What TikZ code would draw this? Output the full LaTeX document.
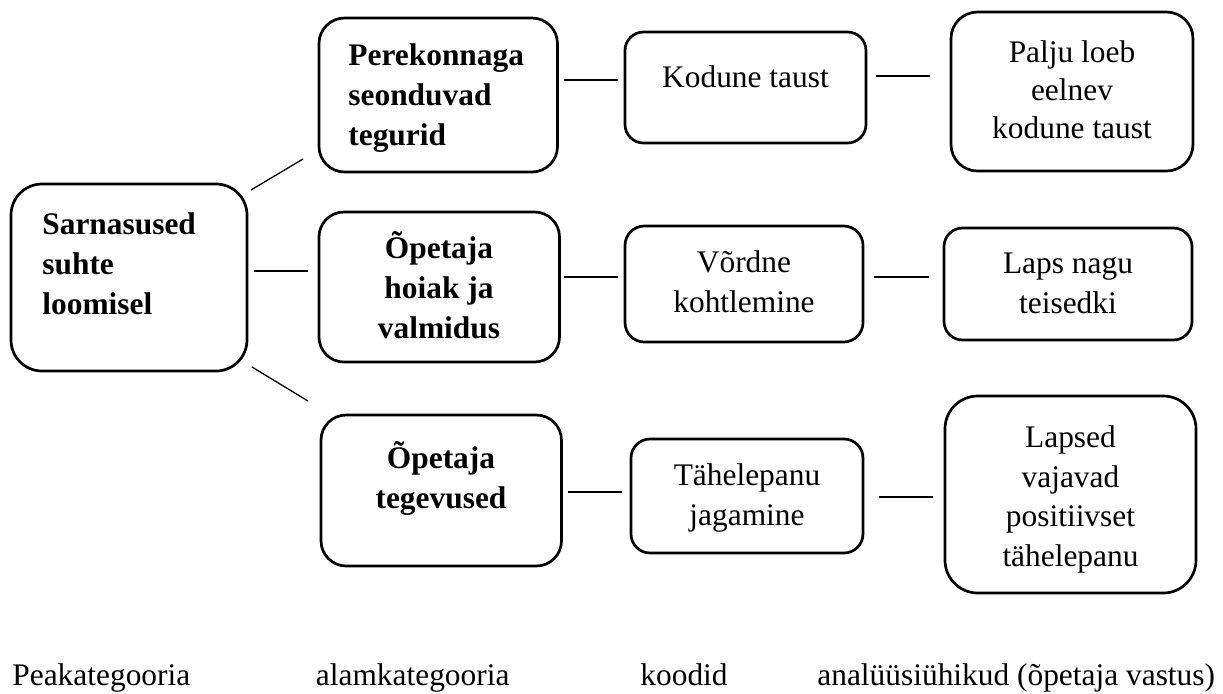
\documentclass[tikz,border=0pt]{standalone}
\usepackage{fontspec}
\setmainfont{Liberation Serif}
\begin{document}
\begin{tikzpicture}[x=0.5pt,y=-0.5pt,
  box/.style={draw=black,line width=1.35pt,rectangle,inner sep=0pt,fill=white},
  lbl/.style={inner sep=0pt,font=\fontsize{15.7pt}{19.7pt}\selectfont},
  blbl/.style={lbl,font=\fontsize{15.7pt}{19.9pt}\selectfont\bfseries},
  conn/.style={draw=black,line width=0.65pt}]
\useasboundingbox (0,0) rectangle (1223,693);
% boxes
\node[box,minimum width=118pt,minimum height=93.5pt,rounded corners=15.5pt] (M) at (129,277.5) {};
\node[box,minimum width=119.25pt,minimum height=77pt,rounded corners=12.8pt] (A1) at (438.25,95) {};
\node[box,minimum width=120.25pt,minimum height=75pt,rounded corners=12.5pt] (A2) at (439.25,287) {};
\node[box,minimum width=120.25pt,minimum height=75.5pt,rounded corners=12.6pt] (A3) at (441.25,490.5) {};
\node[box,minimum width=120.5pt,minimum height=55.5pt,rounded corners=9.25pt] (B1) at (745.5,87.5) {};
\node[box,minimum width=119pt,minimum height=58pt,rounded corners=9.7pt] (B2) at (744,284) {};
\node[box,minimum width=116pt,minimum height=57pt,rounded corners=9.5pt] (B3) at (747,496) {};
\node[box,minimum width=121pt,minimum height=79.5pt,rounded corners=13.25pt] (C1) at (1072,91.5) {};
\node[box,minimum width=124pt,minimum height=56pt,rounded corners=9.3pt] (C2) at (1068,284) {};
\node[box,minimum width=125.5pt,minimum height=98.5pt,rounded corners=16.4pt] (C3) at (1070.5,494.5) {};
% texts (anchored at the baseline of the last line)
\node[blbl,align=left,anchor=base west] (tM) at (42,314) {Sarnasused\\suhte\\loomisel};
\node[blbl,align=left,anchor=base west] (tA1) at (348,145) {Perekonnaga\\seonduvad\\tegurid};
\node[blbl,align=center,anchor=base] (tA2) at (439,338) {Õpetaja\\hoiak ja\\valmidus};
\node[blbl,align=center,anchor=base] (tA3) at (441,508) {Õpetaja\\tegevused};
\node[lbl,align=center,anchor=base] (tB1) at (745.5,87) {Kodune taust};
\node[lbl,align=center,anchor=base] (tB2) at (744,312) {Võrdne\\kohtlemine};
\node[lbl,align=center,anchor=base] (tB3) at (747,525) {Tähelepanu\\jagamine};
\node[lbl,align=center,anchor=base,font=\fontsize{15.7pt}{19pt}\selectfont] (tC1) at (1072,138) {Palju loeb\\eelnev\\kodune taust};
\node[lbl,align=center,anchor=base] (tC2) at (1068,313) {Laps nagu\\teisedki};
\node[lbl,align=center,anchor=base] (tC3) at (1070.5,566) {Lapsed\\vajavad\\positiivset\\tähelepanu};
% bottom labels
\node[lbl,anchor=base west] (k1) at (12,685) {Peakategooria};
\node[lbl,anchor=base west] (k2) at (315.5,685) {alamkategooria};
\node[lbl,anchor=base west] (k3) at (640,685) {koodid};
\node[lbl,anchor=base west] (k4) at (817,685) {analüüsiühikud (õpetaja vastus)};
% connector end points
\coordinate (m1) at (251,190); \coordinate (a1in) at (303,159);
\coordinate (m2) at (254,271); \coordinate (a2in) at (308,271);
\coordinate (m3) at (252,367); \coordinate (a3in) at (308,401);
\coordinate (a1out) at (564,80); \coordinate (b1in) at (618,80);
\coordinate (b1out) at (876,76); \coordinate (c1in) at (930,76);
\coordinate (a2out) at (564,277); \coordinate (b2in) at (618,277);
\coordinate (b2out) at (874,277); \coordinate (c2in) at (929,277);
\coordinate (a3out) at (568,492); \coordinate (b3in) at (622,492);
\coordinate (b3out) at (879,497); \coordinate (c3in) at (933,497);
% connectors
\draw[conn] (m1) -- (a1in);
\draw[conn] (m2) -- (a2in);
\draw[conn] (m3) -- (a3in);
\draw[conn] (a1out) -- (b1in);
\draw[conn] (b1out) -- (c1in);
\draw[conn] (a2out) -- (b2in);
\draw[conn] (b2out) -- (c2in);
\draw[conn] (a3out) -- (b3in);
\draw[conn] (b3out) -- (c3in);
\end{tikzpicture}
\end{document}
